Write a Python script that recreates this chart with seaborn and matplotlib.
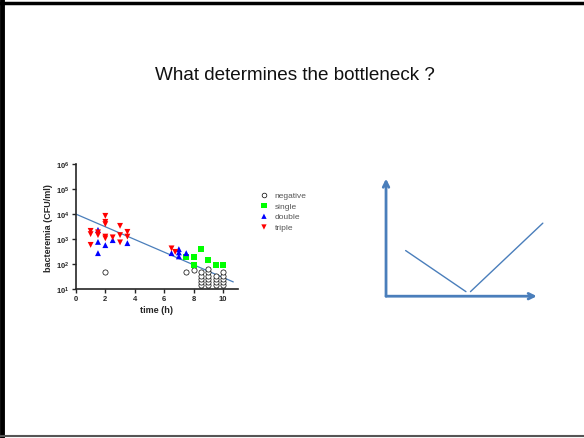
import numpy as np
import pandas as pd
import matplotlib.pyplot as plt
import matplotlib.lines as mlines
import seaborn as sns

# values (log10 CFU/ml)
neg_t = [2, 7.5, 8,
         8.5, 8.5, 8.5, 8.5, 8.5,
         9, 9, 9, 9, 9, 9,
         9.5, 9.5, 9.5, 9.5,
         10, 10, 10, 10, 10]
neg_log = [1.69, 1.69, 1.77,
           1.15, 1.28, 1.41, 1.54, 1.67,
           1.15, 1.28, 1.41, 1.54, 1.67, 1.8,
           1.15, 1.28, 1.41, 1.54,
           1.15, 1.28, 1.41, 1.54, 1.67]
single_t = [7.5, 8, 8, 8.5, 9, 9.5, 10]
single_log = [2.27, 2.29, 1.96, 2.6, 2.17, 1.97, 1.97]
double_t = [1.5, 1.5, 1.5, 2, 2.5, 3.5, 6.5, 7, 7, 7, 7.5]
double_log = [3.37, 2.89, 2.44, 2.76, 2.96, 2.84, 2.44, 2.6, 2.47, 2.31, 2.44]
triple_t = [1, 1, 1, 1.5, 1.5, 2, 2, 2, 2, 2, 2.5, 3, 3, 3, 3.5, 3.5, 6.5, 6.75]
triple_log = [3.33, 3.2, 2.77, 3.27, 3.16, 3.93, 3.69, 3.6, 3.1, 3.03, 3.07,
              3.53, 3.16, 2.87, 3.29, 3.1, 2.63, 2.49]
fit_t = [0, 10.7]
fit_log = [4.0, 1.29]

# sketch on the right
v_x = [0.13, 0.53, 0.56, 1.04]
v_y = [0.40, 0.04, 0.04, 0.64]

groups = ['negative', 'single', 'double', 'triple']
df = pd.concat([
    pd.DataFrame({'t': neg_t, 'cfu': 10 ** np.array(neg_log), 'g': 'negative'}),
    pd.DataFrame({'t': single_t, 'cfu': 10 ** np.array(single_log), 'g': 'single'}),
    pd.DataFrame({'t': double_t, 'cfu': 10 ** np.array(double_log), 'g': 'double'}),
    pd.DataFrame({'t': triple_t, 'cfu': 10 ** np.array(triple_log), 'g': 'triple'}),
])

sns.set_style('ticks')
plt.rcParams['font.family'] = ['Liberation Sans', 'DejaVu Sans']

fig = plt.figure(figsize=(5.84, 4.39), dpi=100)
fig.text(0.505, 0.827, 'What determines the bottleneck ?', ha='center', va='center',
         fontsize=13.6, color='#111111')

ax = fig.add_axes([0.130, 0.339, 0.277, 0.285])
ax.plot(fit_t, 10 ** np.array(fit_log), color='#4a7ebb', lw=0.9, zorder=1)

pal = {'negative': 'none', 'single': '#00ff00', 'double': '#0000ff', 'triple': '#ff0000'}
marks = {'negative': 'o', 'single': 's', 'double': '^', 'triple': 'v'}
for g in groups:
    sub = df[df.g == g]
    if g == 'negative':
        sns.scatterplot(data=sub, x='t', y='cfu', ax=ax, marker='o', s=14,
                        facecolor='white', edgecolor='black', linewidth=0.5,
                        label=g, zorder=3)
    else:
        sns.scatterplot(data=sub, x='t', y='cfu', ax=ax, marker=marks[g], s=18,
                        color=pal[g], edgecolor='none', label=g, zorder=3)

ax.set_yscale('log')
ax.set_xlim(0, 11)
ax.set_ylim(10, 1e6)
ax.set_xticks([0, 2, 4, 6, 8, 10])
ax.set_yticks([1e1, 1e2, 1e3, 1e4, 1e5, 1e6])
ax.minorticks_off()
ax.tick_params(labelsize=5.5, width=1, length=3, pad=1.5)
for lab in ax.get_xticklabels() + ax.get_yticklabels():
    lab.set_fontweight('bold')
ax.set_xlabel('time (h)', fontsize=6.5, fontweight='bold', labelpad=2)
ax.set_ylabel('bacteremia (CFU/ml)', fontsize=6.5, fontweight='bold', labelpad=2)
for s in ['left', 'bottom']:
    ax.spines[s].set_linewidth(1.2)
sns.despine(ax=ax)

h, l = ax.get_legend_handles_labels()
ax.legend(h, l, loc='upper left', bbox_to_anchor=(0.432, 0.570),
          bbox_transform=fig.transFigure, frameon=False, fontsize=6,
          labelcolor='#555555', handletextpad=0.3, labelspacing=0.35,
          markerscale=0.9, borderaxespad=0)

# right-hand sketch
ax2 = fig.add_axes([0.661, 0.323, 0.284, 0.26])
ax2.set_xlim(0, 1.1)
ax2.set_ylim(0, 1)
ax2.axis('off')
col = '#4a7ebb'
ax2.annotate('', xy=(0, 1.03), xytext=(0, 0), annotation_clip=False,
             arrowprops=dict(arrowstyle='->', color=col, lw=2, mutation_scale=10,
                             shrinkA=0, shrinkB=0))
ax2.annotate('', xy=(1.0, 0), xytext=(0, 0), annotation_clip=False,
             arrowprops=dict(arrowstyle='->', color=col, lw=2, mutation_scale=10,
                             shrinkA=0, shrinkB=0))
ax2.plot(v_x[:2], v_y[:2], color=col, lw=1)
ax2.plot(v_x[2:], v_y[2:], color=col, lw=1)
for ln in ax2.lines:
    ln.set_clip_on(False)

# slide frame
fig.add_artist(mlines.Line2D([0.003, 0.003], [0, 1], color='black', lw=3.5))
fig.add_artist(mlines.Line2D([0, 1], [0.991, 0.991], color='black', lw=2.5))
fig.add_artist(mlines.Line2D([0, 1], [0.005, 0.005], color='#555555', lw=1.5))

fig.savefig('out.png', dpi=100)
